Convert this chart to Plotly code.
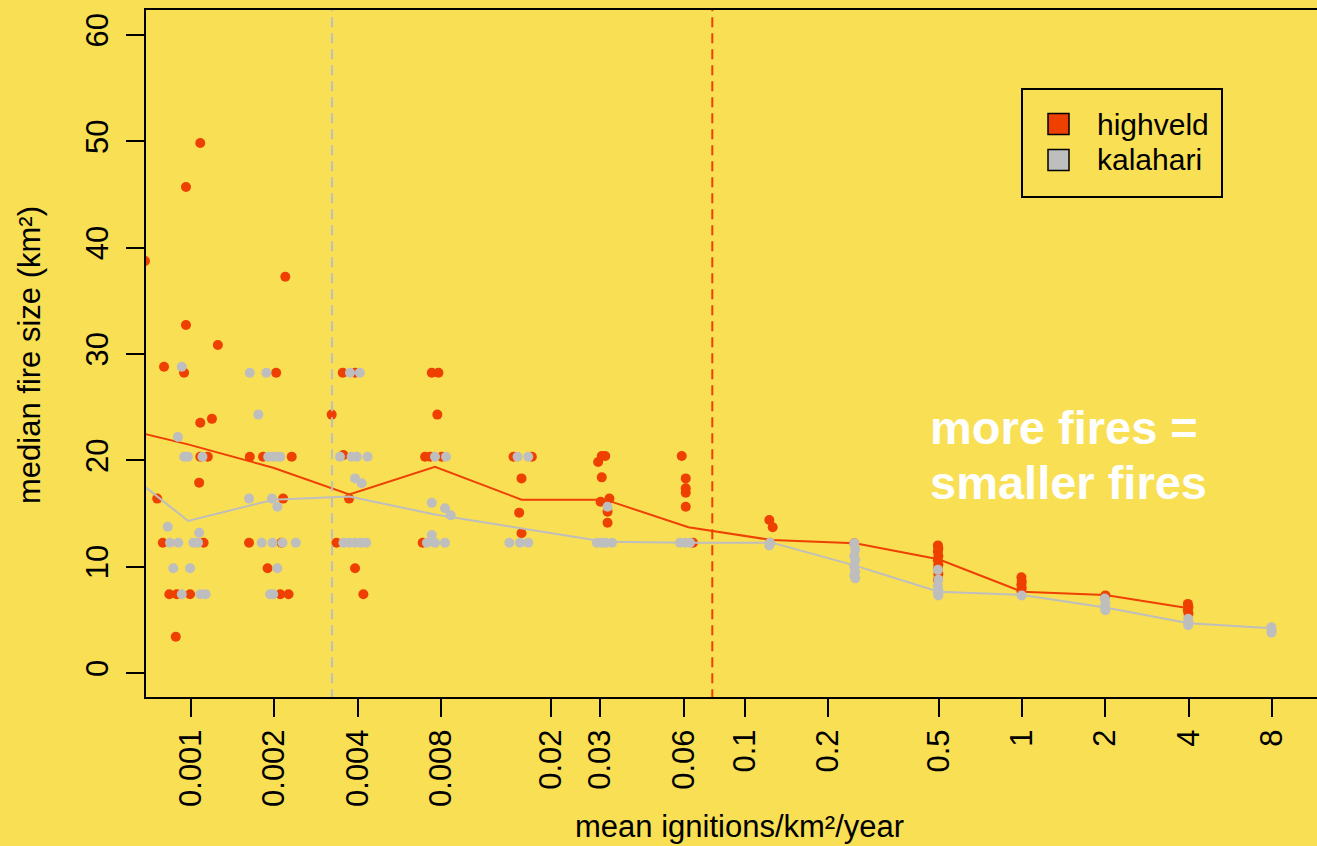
import plotly.graph_objects as go

# ---------------- data ----------------
# highveld (orange-red) scatter points, grouped by ignition class
hv_x_g1 = [0.000682, 0.00108, 0.000959, 0.00219, 0.000959, 0.00125, 0.000799, 0.000944, 0.00203, 0.00108,
           0.00119, 0.00108, 0.00115, 0.00163, 0.00182, 0.00231, 0.00107, 0.000755, 0.00215, 0.000791,
           0.00111, 0.00162, 0.00212, 0.00189, 0.000835, 0.000888, 0.000992, 0.00210, 0.00225, 0.000881]
hv_y_g1 = [38.75, 49.85, 45.7, 37.27, 32.73, 30.85, 28.8, 28.24, 28.24, 23.54,
           23.9, 20.34, 20.34, 20.34, 20.34, 20.34, 17.9, 16.4, 16.4, 12.25,
           12.25, 12.25, 12.25, 9.85, 7.4, 7.4, 7.4, 7.4, 7.4, 3.41]
hv_x_g2 = [0.00322, 0.00353, 0.00391, 0.00355, 0.00372, 0.00335, 0.00391, 0.00419,
           0.00740, 0.00782, 0.00775, 0.00700, 0.00730, 0.00804, 0.00686,
           0.0146, 0.0170, 0.0156, 0.0153, 0.0156]
hv_y_g2 = [24.3, 28.24, 28.24, 20.5, 16.4, 12.25, 9.85, 7.4,
           28.24, 28.24, 24.3, 20.34, 20.34, 20.34, 12.25,
           20.34, 20.34, 18.3, 15.08, 13.14]
hv_x_g3 = [0.0304, 0.0313, 0.0295, 0.0304, 0.0301, 0.0324, 0.0319, 0.0319,
           0.0591, 0.0611, 0.0611, 0.0611, 0.0611, 0.0649,
           0.1224, 0.1259, 0.1231, 0.248]
hv_y_g3 = [20.4, 20.4, 19.84, 18.4, 16.1, 16.4, 15.17, 14.13,
           20.4, 18.3, 17.37, 16.96, 15.64, 12.25,
           14.39, 13.7, 12.25, 12.2]
hv_x_g4 = [0.497, 0.499, 0.497, 0.499, 0.497, 0.499, 0.497, 0.499, 0.497,
           0.995, 0.998, 0.995, 0.998, 0.995, 2.0, 3.97, 3.99, 3.97, 3.99]
hv_y_g4 = [12.0, 11.7, 11.4, 11.0, 10.6, 10.2, 9.8, 9.3, 8.8,
           9.0, 8.6, 8.3, 8.0, 7.7, 7.3, 6.5, 6.2, 5.9, 5.6]

# kalahari (grey) scatter points
kh_x_g1 = [0.000926, 0.000897, 0.000945, 0.000975, 0.00110, 0.000824, 0.00107, 0.000840, 0.000900, 0.00102,
           0.00106, 0.000863, 0.000992, 0.000926, 0.00108, 0.00113]
kh_y_g1 = [28.8, 22.2, 20.34, 20.34, 20.34, 13.76, 13.19, 12.25, 12.25, 12.25,
           12.25, 9.85, 9.85, 7.4, 7.4, 7.4]
kh_x_g2 = [0.00163, 0.00187, 0.00175, 0.00190, 0.00197, 0.00205, 0.00210, 0.00162, 0.00196, 0.00205,
           0.00180, 0.00197, 0.00214, 0.00239, 0.00205, 0.00193, 0.00198]
kh_y_g2 = [28.24, 28.24, 24.3, 20.34, 20.34, 20.34, 20.34, 16.4, 16.4, 15.64,
           12.25, 12.25, 12.25, 12.25, 9.85, 7.4, 7.4]
kh_x_g3 = [0.00375, 0.00407, 0.00345, 0.00380, 0.00397, 0.00434, 0.00391, 0.00413, 0.00355, 0.00372,
           0.00391, 0.00411, 0.00429,
           0.00760, 0.00833, 0.00740, 0.00826, 0.00866, 0.00740, 0.00711, 0.00760, 0.00826,
           0.0151, 0.0165, 0.0141, 0.0154, 0.0165]
kh_y_g3 = [28.24, 28.24, 20.34, 20.34, 20.34, 20.34, 18.3, 17.84, 12.25, 12.25,
           12.25, 12.25, 12.25,
           20.34, 20.34, 16.0, 15.49, 14.83, 12.98, 12.25, 12.25, 12.25,
           20.34, 20.34, 12.25, 12.25, 12.25]
kh_x_g4 = [0.0319, 0.0292, 0.0304, 0.0313, 0.0331, 0.0582, 0.0611, 0.0633, 0.1231, 0.1224,
           0.248, 0.25, 0.248, 0.25, 0.248, 0.25, 0.248, 0.25,
           0.497, 0.499, 0.497, 0.499, 0.497, 0.499, 0.997,
           1.99, 2.0, 1.99, 2.0, 3.98, 3.99, 3.98, 7.95, 7.97, 7.95]
kh_y_g4 = [15.64, 12.25, 12.25, 12.25, 12.25, 12.25, 12.25, 12.25, 12.25, 12.0,
           12.2, 11.6, 11.0, 10.6, 10.0, 9.5, 9.2, 8.9,
           9.7, 8.8, 8.2, 7.8, 7.5, 7.3, 7.3,
           7.0, 6.5, 6.2, 5.9, 5.1, 4.8, 4.5, 4.3, 4.0, 3.8]

# median lines
hv_line_x = [0.000488, 0.000975, 0.00198, 0.00373, 0.0076, 0.0156, 0.0313, 0.0625, 0.125, 0.25, 0.5, 1, 2, 4]
hv_line_y = [23.4, 21.5, 19.3, 16.8, 19.4, 16.3, 16.3, 13.7, 12.5, 12.2, 10.7, 7.65, 7.34, 6.08]
kh_line_x = [0.000488, 0.000977, 0.00198, 0.00373, 0.0076, 0.0156, 0.0313, 0.0625, 0.125, 0.25, 0.5, 1, 2, 4, 8]
kh_line_y = [20.5, 14.3, 16.3, 16.6, 14.9, 13.6, 12.35, 12.26, 12.26, 10.1, 7.65, 7.34, 6.15, 4.68, 4.2]

# threshold markers
kh_thresh = 0.00323
hv_thresh = 0.0762

x_tickvals = [0.001, 0.002, 0.004, 0.008, 0.02, 0.03, 0.06, 0.1, 0.2, 0.5, 1, 2, 4, 8]
x_ticktext = ["0.001", "0.002", "0.004", "0.008", "0.02", "0.03", "0.06", "0.1", "0.2", "0.5", "1", "2", "4", "8"]
y_tickvals = [0, 10, 20, 30, 40, 50, 60]

series_names = ["highveld", "kalahari"]

# ---------------- style ----------------
BG = "#F9DF53"
RED = "#EE4000"
GREY = "#BEBEBE"
FONT = "Liberation Sans, Arial, Helvetica, sans-serif"
FS = 31

hv_x = hv_x_g1 + hv_x_g2 + hv_x_g3 + hv_x_g4
hv_y = hv_y_g1 + hv_y_g2 + hv_y_g3 + hv_y_g4
kh_x = kh_x_g1 + kh_x_g2 + kh_x_g3 + kh_x_g4
kh_y = kh_y_g1 + kh_y_g2 + kh_y_g3 + kh_y_g4

fig = go.Figure()
fig.add_trace(go.Scatter(x=hv_x, y=hv_y, mode="markers", name=series_names[0],
                         marker=dict(color=RED, size=10, line=dict(width=0)), showlegend=False))
fig.add_trace(go.Scatter(x=hv_line_x, y=hv_line_y, mode="lines",
                         line=dict(color=RED, width=2), showlegend=False))
fig.add_trace(go.Scatter(x=kh_x, y=kh_y, mode="markers", name=series_names[1],
                         marker=dict(color=GREY, size=10, line=dict(width=0)), showlegend=False))
fig.add_trace(go.Scatter(x=kh_line_x, y=kh_line_y, mode="lines",
                         line=dict(color=GREY, width=2), showlegend=False))
# dashed threshold lines
fig.add_trace(go.Scatter(x=[kh_thresh, kh_thresh], y=[-10, 80], mode="lines",
                         line=dict(color=GREY, width=2, dash="10px,6px"), showlegend=False))
fig.add_trace(go.Scatter(x=[hv_thresh, hv_thresh], y=[-10, 80], mode="lines",
                         line=dict(color=RED, width=2, dash="10px,6px"), showlegend=False))

L, T, B = 146, 10, 149
W, H = 1317, 846
pw, ph = W - L, H - T - B


def px(x):
    return (x - L) / pw


def py(y):
    return (H - B - y) / ph


shapes = [
    dict(type="rect", xref="paper", yref="paper", x0=px(1022), x1=px(1222), y0=py(197), y1=py(89),
         line=dict(color="black", width=2), fillcolor=BG),
    dict(type="rect", xref="paper", yref="paper", x0=px(1048), x1=px(1069), y0=py(134.5), y1=py(113.5),
         line=dict(color="black", width=1.5), fillcolor=RED),
    dict(type="rect", xref="paper", yref="paper", x0=px(1048), x1=px(1069), y0=py(170.5), y1=py(149.5),
         line=dict(color="black", width=1.5), fillcolor=GREY),
]

annotations = [
    dict(text=series_names[0], xref="paper", yref="paper", x=px(1095), y=py(124), xanchor="left",
         yanchor="middle", showarrow=False, font=dict(family=FONT, size=30, color="black")),
    dict(text=series_names[1], xref="paper", yref="paper", x=px(1095), y=py(160), xanchor="left",
         yanchor="middle", showarrow=False, font=dict(family=FONT, size=30, color="black")),
    dict(text="<b>more fires =</b>", xref="paper", yref="paper", x=px(928), y=py(427), xanchor="left",
         yanchor="middle", showarrow=False, font=dict(family=FONT, size=47, color="white")),
    dict(text="<b>smaller fires</b>", xref="paper", yref="paper", x=px(928), y=py(482), xanchor="left",
         yanchor="middle", showarrow=False, font=dict(family=FONT, size=47, color="white")),
    dict(text="mean ignitions/km²/year", xref="paper", yref="paper", x=px(739), y=py(826),
         xanchor="center", yanchor="middle", showarrow=False, font=dict(family=FONT, size=FS, color="black")),
    dict(text="median fire size (km²)", xref="paper", yref="paper", x=px(30), y=py(355), textangle=-90,
         xanchor="center", yanchor="middle", showarrow=False, font=dict(family=FONT, size=FS, color="black")),
]

fig.update_layout(
    width=W, height=H,
    margin=dict(l=L, r=0, t=T, b=B),
    paper_bgcolor=BG, plot_bgcolor=BG,
    font=dict(family=FONT, size=FS, color="black"),
    showlegend=False,
    shapes=shapes,
    annotations=annotations,
    xaxis=dict(type="log", range=[-3.1625, 1.065], tickvals=x_tickvals, ticktext=x_ticktext,
               tickangle=-90, ticks="outside", ticklen=18, tickwidth=2, tickcolor="black",
               showline=True, linecolor="black", linewidth=2, mirror=True,
               showgrid=False, zeroline=False, tickfont=dict(family=FONT, size=FS, color="black")),
    yaxis=dict(range=[-2.257, 62.35], tickvals=y_tickvals, tickangle=-90, ticks="outside", ticklen=18,
               tickwidth=2, tickcolor="black", showline=True, linecolor="black", linewidth=2,
               ticklabelstandoff=6,
               showgrid=False, zeroline=False, tickfont=dict(family=FONT, size=FS, color="black")),
)

fig.write_html("out.html",
               config={"displayModeBar": False},
               post_script="document.body.style.margin='0';document.body.style.padding='0';"
                           "document.body.style.background='" + BG + "';")
